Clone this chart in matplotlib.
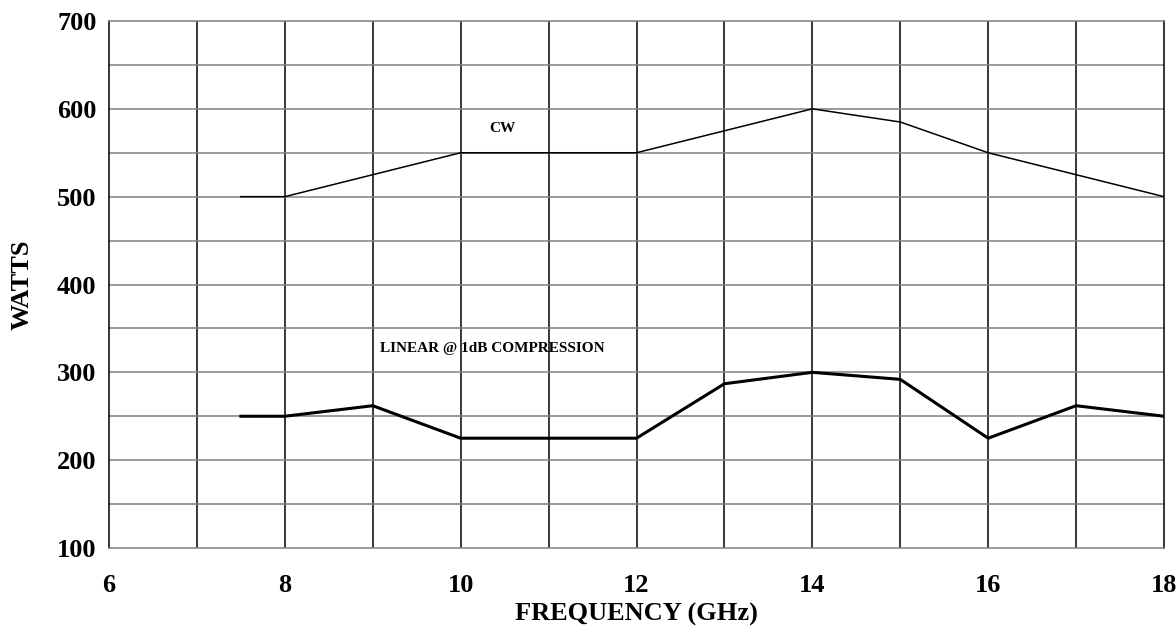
import matplotlib
matplotlib.use("Agg")
from matplotlib import pyplot as plt

# frequency (GHz) vs output power (watts)
cwFreq = [7.5, 8, 10, 12, 14, 15, 16, 18]
cwWatts = [500, 500, 550, 550, 600, 585, 550, 500]

linFreq = [7.5, 8, 9, 10, 12, 13, 14, 15, 16, 17, 18]
linWatts = [250, 250, 262, 225, 225, 287, 300, 292, 225, 262, 250]

xTicks = [6, 8, 10, 12, 14, 16, 18]
yTicks = [100, 200, 300, 400, 500, 600, 700]

plt.rcParams['font.family'] = ['Liberation Serif', 'DejaVu Serif']
plt.rcParams['font.weight'] = 'bold'

fig = plt.figure(figsize=(11.76, 6.3), dpi=100)
ax = fig.add_axes([109/1176, 1-548/630, (1164-109)/1176, (548-21)/630])

#grid: vertical lines black, horizontal gray
for x in range(7, 18):
  ax.axvline(x, color='black', lw=1.1, zorder=1)
for y in range(150, 700, 50):
  ax.axhline(y, color='#808080', lw=1.1, zorder=1)

ax.plot(cwFreq, cwWatts, color='black', lw=1.1, zorder=3)
ax.plot(linFreq, linWatts, color='black', lw=2.2, zorder=3)

ax.text(10.47, 578, "CW", fontsize=11, fontweight='bold', ha='center', va='center')
ax.text(9.08, 327, "LINEAR @ 1dB COMPRESSION", fontsize=11, fontweight='bold', ha='left', va='center')

ax.set_xlim(6, 18)
ax.set_ylim(100, 700)
ax.set_xticks(xTicks)
ax.set_yticks(yTicks)
ax.tick_params(length=0, labelsize=19)
ax.tick_params(axis='x', pad=19)
ax.tick_params(axis='y', pad=9)
for lbl in ax.get_xticklabels() + ax.get_yticklabels():
  lbl.set_fontweight('bold')
for s in ax.spines.values():
  s.set_color('#808080')
  s.set_linewidth(1.1)
ax.spines['left'].set_color('black')
ax.spines['right'].set_color('black')

ax.set_xlabel("FREQUENCY (GHz)", fontsize=19, fontweight='bold', labelpad=4)
ax.set_ylabel("WATTS", fontsize=19, fontweight='bold', labelpad=17)

fig.savefig("out.png", dpi=100)
